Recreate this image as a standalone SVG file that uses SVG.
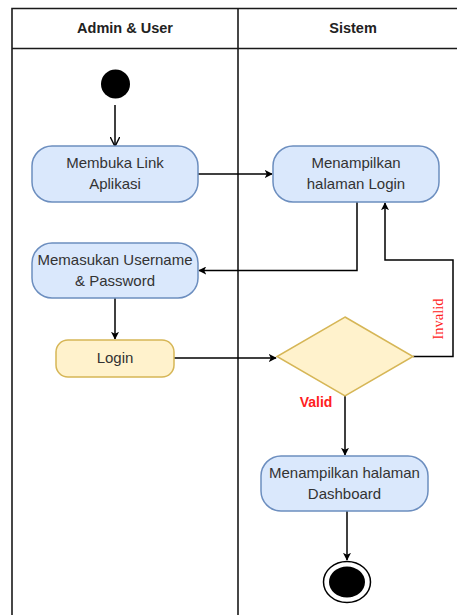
<svg xmlns="http://www.w3.org/2000/svg" width="457" height="615" viewBox="0 0 457 615">
  <style>
    .lane { fill: none; stroke: #1a1a1a; stroke-width: 1.6; }
    .head { font-family: "Liberation Sans", Arial, sans-serif; font-size: 14.5px; font-weight: bold; fill: #222; text-anchor: middle; }
    .act { fill: #dae8fc; stroke: #6c8ebf; stroke-width: 1.5; }
    .act2 { fill: #fff2cc; stroke: #d6b656; stroke-width: 1.5; }
    .lbl { font-family: "Liberation Sans", Arial, sans-serif; font-size: 15px; fill: #333; text-anchor: middle; }
    .edge { fill: none; stroke: #000; stroke-width: 1.5; }
  </style>
  <defs>
    <marker id="block" viewBox="0 0 10 10" refX="9" refY="5" markerWidth="8" markerHeight="8" markerUnits="userSpaceOnUse" orient="auto">
      <path d="M0,0 L10,5 L0,10 L2.5,5 Z" fill="#000"/>
    </marker>
    <marker id="open" viewBox="0 0 10 10" refX="9.5" refY="5" markerWidth="10" markerHeight="10" markerUnits="userSpaceOnUse" orient="auto">
      <path d="M0,0 L10,5 L0,10" fill="none" stroke="#000" stroke-width="1.4"/>
    </marker>
  </defs>
  <rect width="457" height="615" fill="#fff"/>

  <!-- swimlanes -->
  <g id="pool">
    <path class="lane" d="M12,615 V8.5 H460 M12,48.5 H460 M238,8.5 V615"/>
    <text class="head" x="125" y="33">Admin &amp; User</text>
    <text class="head" x="353" y="33">Sistem</text>
  </g>

  <!-- connectors -->
  <g id="connectors">
    <path class="edge" d="M115,105 V146" marker-end="url(#open)"/>
    <path class="edge" d="M198,174 H272" marker-end="url(#block)"/>
    <path class="edge" d="M357,202 V270.5 H199" marker-end="url(#block)"/>
    <path class="edge" d="M115,298 V339" marker-end="url(#block)"/>
    <path class="edge" d="M174,358 H276" marker-end="url(#block)"/>
    <path class="edge" d="M413,356.5 H453 V260 H385 V203" marker-end="url(#block)"/>
    <path class="edge" d="M345,396 V455" marker-end="url(#block)"/>
    <path class="edge" d="M347,511 V560" marker-end="url(#block)"/>
    <text x="316" y="407" font-family="'Liberation Sans', Arial, sans-serif" font-size="14" font-weight="bold" fill="#ff2020" text-anchor="middle">Valid</text>
    <text transform="translate(443,319) rotate(-90)" font-family="'Liberation Serif', 'Times New Roman', serif" font-size="14.5" fill="#ff2020" text-anchor="middle">Invalid</text>
  </g>

  <!-- nodes -->
  <g id="start">
    <circle cx="115.5" cy="84" r="14.5" fill="#000"/>
  </g>
  <g id="buka-link">
    <rect class="act" x="32" y="146" width="166" height="56" rx="20"/>
    <text class="lbl" x="115" y="168">Membuka Link</text>
    <text class="lbl" x="115" y="189">Aplikasi</text>
  </g>
  <g id="halaman-login">
    <rect class="act" x="273" y="146" width="166" height="56" rx="20"/>
    <text class="lbl" x="356" y="168">Menampilkan</text>
    <text class="lbl" x="356" y="189">halaman Login</text>
  </g>
  <g id="input-akun">
    <rect class="act" x="32" y="243" width="166" height="55" rx="20"/>
    <text class="lbl" x="115" y="265">Memasukan Username</text>
    <text class="lbl" x="115" y="286">&amp; Password</text>
  </g>
  <g id="login">
    <rect class="act2" x="56" y="340" width="118" height="37" rx="12"/>
    <text class="lbl" x="115" y="363">Login</text>
  </g>
  <g id="cek-login">
    <polygon class="act2" points="345,317 413,356.5 345,396 277,356.5"/>
  </g>
  <g id="dashboard">
    <rect class="act" x="261" y="456" width="167" height="55" rx="20"/>
    <text class="lbl" x="344.5" y="478">Menampilkan halaman</text>
    <text class="lbl" x="344.5" y="499">Dashboard</text>
  </g>
  <g id="end">
    <ellipse cx="347" cy="582" rx="23.5" ry="20.5" fill="#fff" stroke="#000" stroke-width="1.5"/>
    <ellipse cx="347" cy="582" rx="18" ry="15.5" fill="#000"/>
  </g>
</svg>
